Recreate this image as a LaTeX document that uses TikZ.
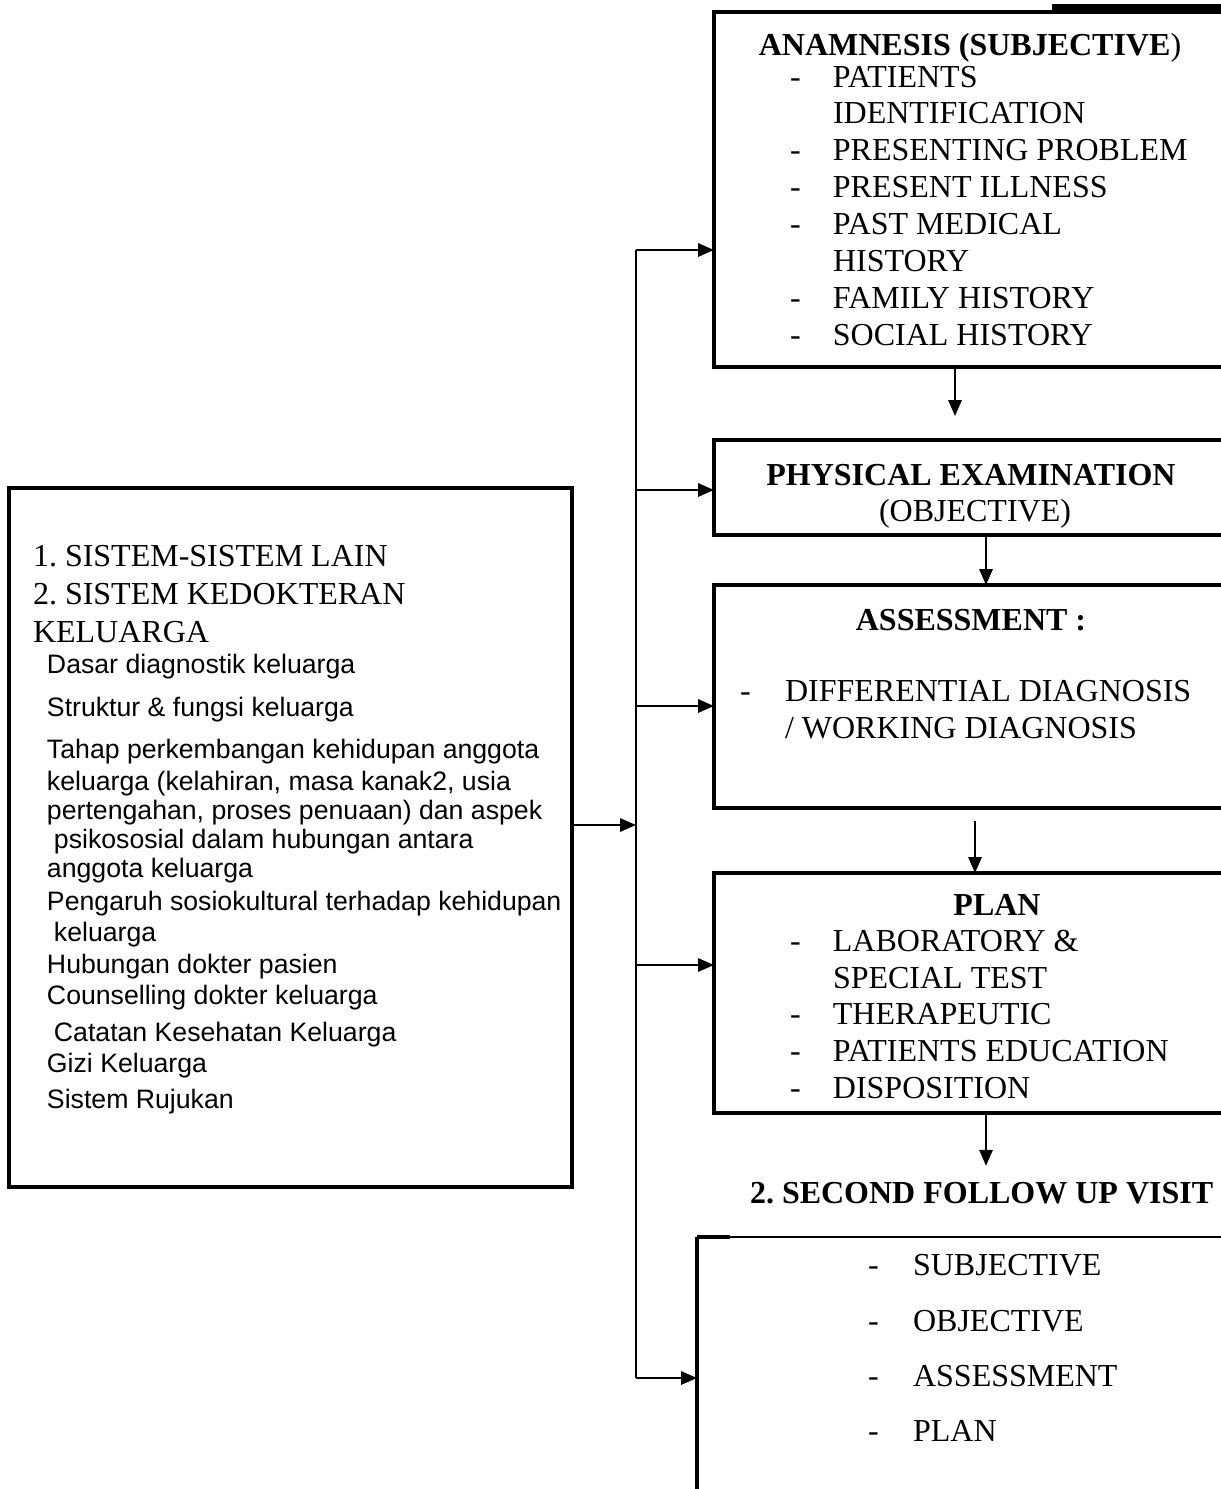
\documentclass[tikz,border=0pt]{standalone}
\usepackage{fontspec}
\setmainfont{Liberation Serif}
\setsansfont{Liberation Sans}
\usetikzlibrary{positioning,arrows.meta}
\frenchspacing

\newcommand\itm[1]{\makebox[16.1pt][l]{-}#1}

\begin{document}
\begin{tikzpicture}
  [x=.375pt,y=-.375pt,
   every node/.style={inner sep=0pt,outer sep=0pt},
   box/.style={draw,line width=1.8pt,anchor=north west},
   txt/.style={anchor=base west,font=\fontsize{12}{14}\selectfont},
   hd/.style={anchor=base,font=\fontsize{12}{14}\selectfont\bfseries},
   sans/.style={anchor=base west,font=\sffamily\fontsize{10}{12}\selectfont},
   arr/.style={line width=.8pt,-{Triangle[length=6pt,width=5pt]}}]

  \fill[white] (0,0) rectangle (1221,1489);
  \useasboundingbox (0,0) rectangle (1221,1489);
  \clip (0,0) rectangle (1221,1489);

  % boxes
  \node[box,minimum width=530*.375pt,minimum height=355*.375pt] (anam) at (714,12) {};
  \node[box,minimum width=530*.375pt,minimum height=95*.375pt] (phys) at (714,440) {};
  \node[box,minimum width=530*.375pt,minimum height=223*.375pt] (asse) at (714,585) {};
  \node[box,minimum width=530*.375pt,minimum height=240*.375pt] (plan) at (714,873) {};
  \node[box,draw=none,minimum width=540*.375pt,minimum height=300*.375pt] (fu) at (697,1237) {};
  \node[box,line width=1.5pt,minimum width=563*.375pt,minimum height=699*.375pt] (sk) at (9,488) {};
  \draw[line width=2pt] (1052,7) -- (1230,7);
  \draw[line width=.9pt] (fu.north west) -- (fu.north east);
  \draw[line width=1.8pt] (fu.north west) -- (fu.south west);
  \draw[line width=1.8pt] (fu.north west) -- ++(33,0);

  % anamnesis
  \node[hd] (anamh) at (970,55) {ANAMNESIS (SUBJECTIVE\textmd{)}};
  \node[txt] (an1) at (790,87) {\itm{PATIENTS}};
  \node[txt] (an2) at (833,123) {IDENTIFICATION};
  \node[txt] (an3) at (790,160) {\itm{PRESENTING PROBLEM}};
  \node[txt] (an4) at (790,197) {\itm{PRESENT ILLNESS}};
  \node[txt] (an5) at (790,234) {\itm{PAST MEDICAL}};
  \node[txt] (an6) at (833,271) {HISTORY};
  \node[txt] (an7) at (790,308) {\itm{FAMILY HISTORY}};
  \node[txt] (an8) at (790,345) {\itm{SOCIAL HISTORY}};

  % physical examination
  \node[hd] (physh) at (971,485) {PHYSICAL EXAMINATION};
  \node[hd,font=\fontsize{12}{14}\selectfont] (physo) at (975,521) {(OBJECTIVE)};

  % assessment
  \node[hd] (asseh) at (971,630) {ASSESSMENT :};
  \node[txt] (as1) at (740,701) {\makebox[16.9pt][l]{-}DIFFERENTIAL DIAGNOSIS};
  \node[txt] (as2) at (785,738) {/ WORKING DIAGNOSIS};

  % plan
  \node[hd] (planh) at (997,915) {PLAN};
  \node[txt] (pl1) at (790,951) {\itm{LABORATORY \&}};
  \node[txt] (pl2) at (833,988) {SPECIAL TEST};
  \node[txt] (pl3) at (790,1024) {\itm{THERAPEUTIC}};
  \node[txt] (pl4) at (790,1061) {\itm{PATIENTS EDUCATION}};
  \node[txt] (pl5) at (790,1098) {\itm{DISPOSITION}};

  % follow up
  \node[txt,font=\fontsize{12}{14}\selectfont\bfseries] (fuh) at (750,1203) {2. SECOND FOLLOW UP VISIT};
  \foreach \y/\t [count=\i] in {1275/SUBJECTIVE,1331/OBJECTIVE,1386/ASSESSMENT,1441/PLAN}
    \node[txt] (fi\i) at (868,\y) {\makebox[16.9pt][l]{-}\t};

  % left box
  \node[txt] (sk1) at (33,566) {1. SISTEM-SISTEM LAIN};
  \node[txt] (sk2) at (33,604) {2. SISTEM KEDOKTERAN};
  \node[txt] (sk3) at (33,642) {KELUARGA};
  \foreach \y/\t [count=\i] in {673/Dasar diagnostik keluarga,
      716/Struktur \& fungsi keluarga,
      758/Tahap perkembangan kehidupan anggota,
      790/{keluarga (kelahiran, masa kanak2, usia},
      819/{pertengahan, proses penuaan) dan aspek},
      848/{\hspace{2.6pt}psikososial dalam hubungan antara},
      877/anggota keluarga,
      910/Pengaruh sosiokultural terhadap kehidupan,
      941/{\hspace{2.6pt}keluarga},
      973/Hubungan dokter pasien,
      1004/Counselling dokter keluarga,
      1041/{\hspace{2.6pt}Catatan Kesehatan Keluarga},
      1072/Gizi Keluarga,
      1108/Sistem Rujukan}
    \node[sans] (kl\i) at (47,\y) {\t};

  % connectors
  \coordinate (a1) at (955,0);
  \coordinate (a2) at (986,0);
  \coordinate (a3) at (975,0);
  \draw[arr,shorten >=9pt] (anam.south -| a1) -- (phys.north -| a1);
  \draw[arr] (phys.south -| a2) -- (asse.north -| a2);
  \draw[arr,shorten <=5pt] (asse.south -| a3) -- (plan.north -| a3);
  \draw[arr,shorten >=6pt] (plan.south -| a2) -- (fuh.north -| a2);

  \coordinate (b0) at (636,825);
  \coordinate (b1) at (636,250);
  \coordinate (b2) at (636,490);
  \coordinate (b3) at (636,706);
  \coordinate (b4) at (636,965);
  \coordinate (b5) at (636,1378);
  \draw[line width=.8pt] (b1) -- (b5);
  \draw[arr] (b1) -- (b1 -| anam.west);
  \draw[arr] (b2) -- (b2 -| phys.west);
  \draw[arr] (b3) -- (b3 -| asse.west);
  \draw[arr] (b4) -- (b4 -| plan.west);
  \draw[arr] (b5) -- (b5 -| fu.west);
  \draw[arr] (sk.east |- b0) -- (b0);
\end{tikzpicture}
\end{document}
